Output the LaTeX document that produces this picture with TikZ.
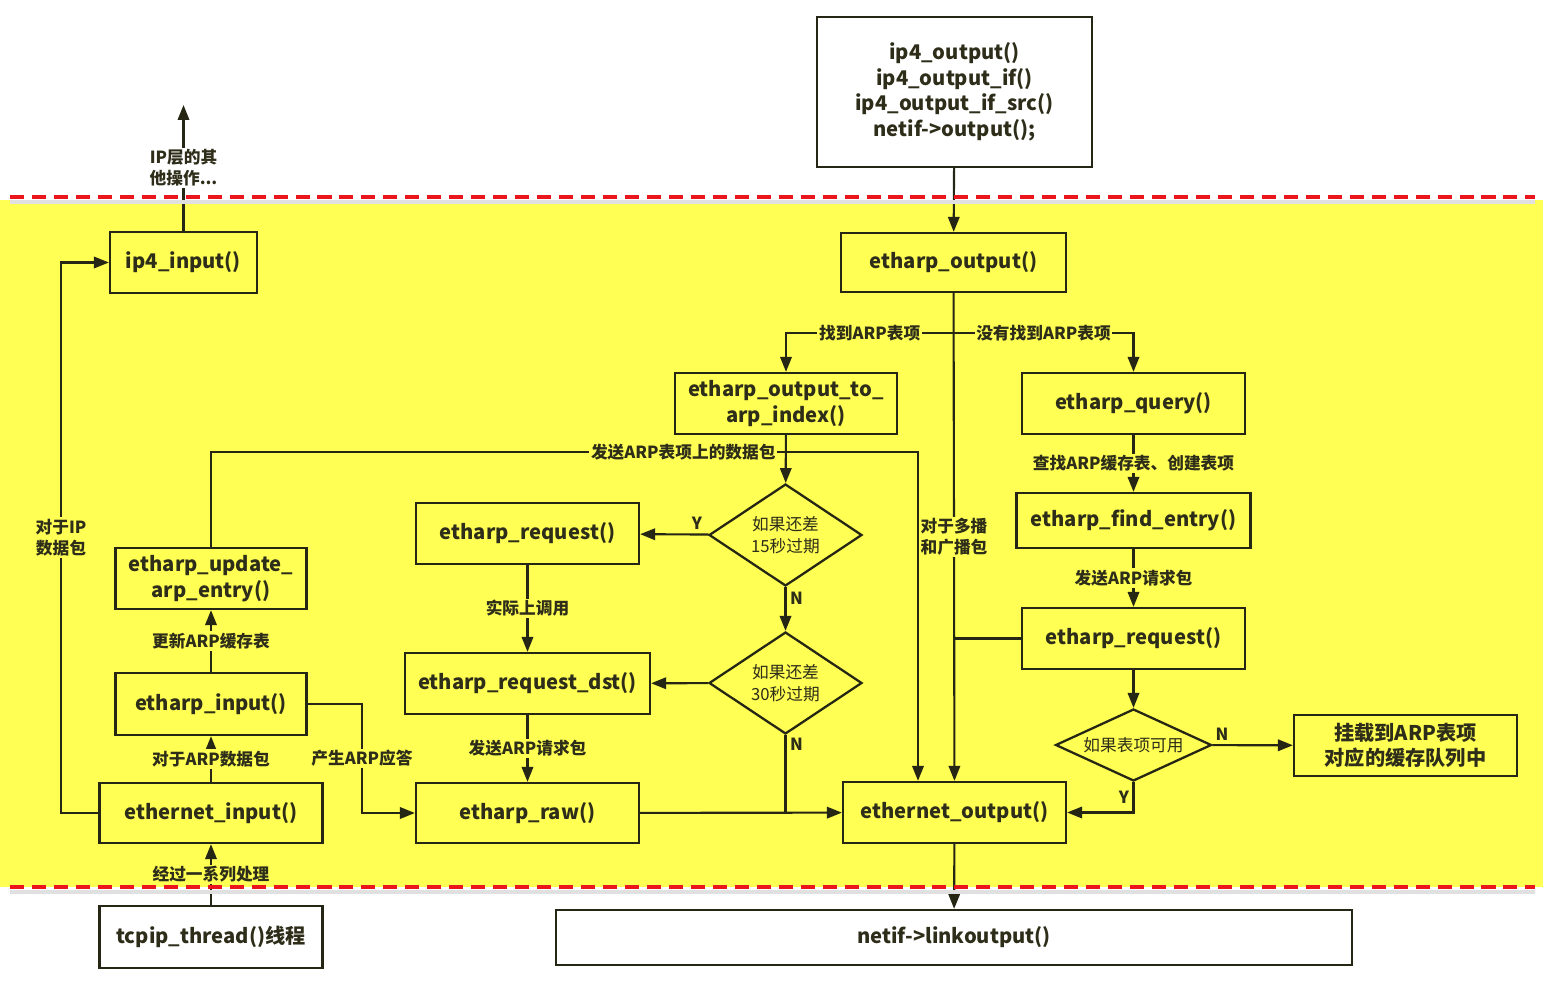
\documentclass[tikz,border=0pt]{standalone}
\usepackage{fontspec}
\setmainfont{Noto Sans CJK SC}
\usetikzlibrary{positioning,arrows.meta,shapes.geometric}
\definecolor{colorlayer}{RGB}{255,255,84}
\definecolor{colorline} {RGB}{38 ,38 ,20}
\definecolor{colortext} {RGB}{45 ,45 ,25}
\definecolor{colordash} {RGB}{235,22 ,28}

\begin{document}
\begin{tikzpicture}[
    x=0.02cm, y=-0.02cm,
    >={Triangle[length=8.5pt,width=6.5pt]},
    every node/.style={text=colortext},
    fn/.style={draw=colorline,line width=1.3pt,fill=colorlayer,font={\bfseries\fontsize{11.5}{14.5}\selectfont},align=center,inner sep=2pt},
    host/.style={fn,fill=white},
    cond/.style={diamond,draw=colorline,line width=1.3pt,fill=colorlayer,inner sep=0pt,align=center,font={\fontsize{9.5}{12.5}\selectfont}},
    lbl/.style={fill=colorlayer,inner sep=1pt,align=center,font={\bfseries\fontsize{9.5}{12}\selectfont}},
    yn/.style={inner sep=2pt,font={\bfseries\fontsize{9.5}{11}\selectfont}},
    flow/.style={->,draw=colorline,line width=1.2pt},
    link/.style={draw=colorline,line width=1.2pt},
    layer/.style={draw=colordash,line width=1.8pt,dash pattern=on 8pt off 4.5pt},
]
    \useasboundingbox (0,0) rectangle (1547,989);

    % Layer
    \fill[colorlayer] (0,200) rectangle (1543,887);

    % Nodes
    \node[host,minimum width=5.5cm,minimum height=3cm] (ipout) at (954.5,92)
        {ip4\_output()\\ip4\_output\_if()\\ip4\_output\_if\_src()\\netif->output();};
    \node[fn,minimum width=2.94cm,minimum height=1.22cm] (ip4in)  at (183.5,262.5) {ip4\_input()};
    \node[fn,minimum width=4.5cm,minimum height=1.18cm]  (arpout) at (953.5,262.5) {etharp\_output()};
    \node[fn,minimum width=4.44cm,minimum height=1.22cm] (toidx)  at (786,403.5)   {etharp\_output\_to\_\\arp\_index()};
    \node[fn,minimum width=4.46cm,minimum height=1.22cm] (query)  at (1133.5,403.5) {etharp\_query()};
    \node[fn,minimum width=4.68cm,minimum height=1.1cm]  (find)   at (1133.5,520.5) {etharp\_find\_entry()};
    \node[fn,minimum width=4.46cm,minimum height=1.22cm] (reqr)   at (1133.5,638.5) {etharp\_request()};
    \node[cond,aspect=3,minimum width=3.12cm,minimum height=1.44cm] (avail) at (1133.5,745) {如果表项可用};
    \node[fn,minimum width=4.46cm,minimum height=1.22cm] (queue)  at (1405.5,745.5) {挂载到ARP表项\\对应的缓存队列中};
    \node[fn,minimum width=4.46cm,minimum height=1.22cm] (ethout) at (954.5,812.5) {ethernet\_output()};
    \node[host,minimum width=15.92cm,minimum height=1.1cm] (linkout) at (954,937.5) {netif->linkoutput()};

    \node[host,minimum width=4.46cm,minimum height=1.24cm] (tcpip) at (211,937)   {tcpip\_thread()线程};
    \node[fn,minimum width=4.46cm,minimum height=1.2cm]   (ethin)  at (211,813)   {ethernet\_input()};
    \node[fn,minimum width=3.82cm,minimum height=1.24cm]  (arpin)  at (211,704)   {etharp\_input()};
    \node[fn,minimum width=3.82cm,minimum height=1.22cm]  (update) at (211,578.5) {etharp\_update\_\\arp\_entry()};
    \node[fn,minimum width=4.46cm,minimum height=1.22cm]  (reql)   at (527.5,533.5) {etharp\_request()};
    \node[fn,minimum width=4.9cm,minimum height=1.22cm]   (reqdst) at (527.5,683.5) {etharp\_request\_dst()};
    \node[fn,minimum width=4.46cm,minimum height=1.2cm]   (raw)    at (527.5,813)   {etharp\_raw()};
    \node[cond,aspect=1.5,minimum width=3.06cm,minimum height=2.04cm] (d15) at (785.5,535) {如果还差\\15秒过期};
    \node[cond,aspect=1.5,minimum width=3.06cm,minimum height=2.04cm] (d30) at (785.5,683) {如果还差\\30秒过期};

    \coordinate (upper)  at (183.5,105);
    \coordinate (split)  at (953.5,333);
    \coordinate (send)   at (918,452);
    \coordinate (ipbend) at (61,813);
    \coordinate (reply)  at (362,704);

    % Arrows
    \draw[flow] (ip4in) -- node[lbl,fill=white]{IP层的其\\他操作...} (upper);
    \draw[flow] (ipout) -- (arpout);
    \draw[flow] (arpout) -- node[lbl]{对于多播\\和广播包} (ethout);
    \draw[flow] (split) -| node[lbl,pos=0.25]{找到ARP表项} (toidx);
    \draw[flow] (split) -| node[lbl,pos=0.25]{没有找到ARP表项} (query);
    \draw[flow] (toidx) -- (d15);
    \draw[flow] (update) |- node[lbl,pos=0.834]{发送ARP表项上的数据包} (send) -- (send |- ethout.north);
    \draw[flow] (d15) -- node[yn,above,pos=0.17]{Y} (reql);
    \draw[flow] (d15) -- node[yn,right,pos=0.25]{N} (d30);
    \draw[flow] (reql) -- node[lbl]{实际上调用} (reqdst);
    \draw[flow] (d30) -- (reqdst);
    \draw[link] (d30) -- node[yn,right,pos=0.12]{N} (d30 |- raw);
    \draw[flow] (reqdst) -- node[lbl]{发送ARP请求包} (raw);
    \draw[flow] (raw) -- (ethout);
    \draw[flow] (ethout) -- (linkout);
    \draw[flow] (query) -- node[lbl]{查找ARP缓存表、创建表项} (find);
    \draw[flow] (find) -- node[lbl]{发送ARP请求包} (reqr);
    \draw[link] (reqr) -- (reqr.west -| arpout);
    \draw[flow] (reqr) -- (avail);
    \draw[flow] (avail) -- node[yn,above,pos=0.12]{N} (queue);
    \draw[flow] (avail) |- node[yn,left,pos=0.25]{Y} (ethout);
    \draw[flow] (ethin) -- (ipbend) |- node[lbl,pos=0.25]{对于IP\\数据包} (ip4in);
    \draw[flow] (ethin) -- node[lbl]{对于ARP数据包} (arpin);
    \draw[flow] (arpin) -- node[lbl]{更新ARP缓存表} (update);
    \draw[flow] (arpin) -- (reply) |- node[lbl,pos=0.25]{产生ARP应答} (raw);
    \draw[flow] (tcpip) -- node[lbl]{经过一系列处理} (ethin);

    % Layer borders
    \draw[black!12,line width=2pt] (10,202) -- (1535,202);
    \draw[black!12,line width=2pt] (10,892) -- (1535,892);
    \draw[layer] (10,197) -- (1535,197);
    \draw[layer] (10,887) -- (1535,887);

\end{tikzpicture}
\end{document}
